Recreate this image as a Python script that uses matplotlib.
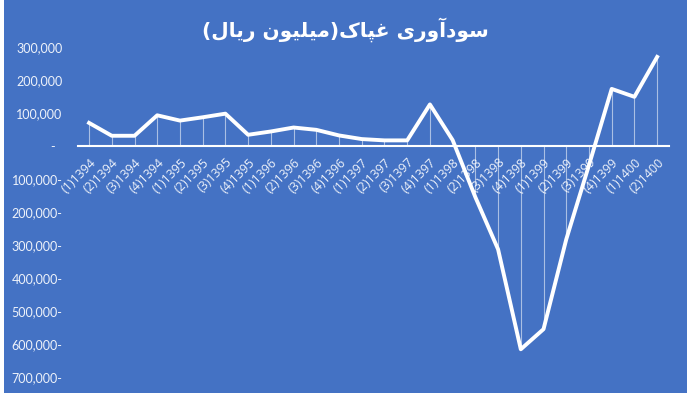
import matplotlib
matplotlib.use("Agg")
import matplotlib.pyplot as plt
from matplotlib.patches import Rectangle
from matplotlib.ticker import FuncFormatter

# quarterly profit of the company (million rial)
years = [1394] * 4 + [1395] * 4 + [1396] * 4 + [1397] * 4 + [1398] * 4 + [1399] * 4 + [1400] * 2
quarters = [1, 2, 3, 4] * 6 + [1, 2]
profit = [70000, 31000, 31000, 93000, 77000, 87000, 98000, 34000,
          44000, 56000, 49000, 32000, 21000, 17000, 17000, 126000,
          18000, -155000, -313000, -616000, -555000, -283000, -58000, 173000,
          149000, 270000]
labels = ["(%d)%d" % (q, y) for q, y in zip(quarters, years)]

# title written with Arabic presentation forms, in logical order
title_logical = ["\uFEB3", "\uFEEE", "\uFEA9", "\uFE81", "\uFEED", "\uFEAD", "\uFEEF", " ",
                 "\uFECF", "\uFB59", "\uFE8E", "\uFB8E", "(",
                 "\uFEE3", "\uFEF4", "\uFEE0", "\uFEF4", "\uFEEE", "\uFEE5", " ",
                 "\uFEAD", "\uFEF3", "\uFE8E", "\uFEDD", ")"]
swap = {"(": ")", ")": "("}
title_visual = "".join(swap.get(c, c) for c in reversed(title_logical))

blue = "#4472C4"
txt = "#EEF2FA"

fig = plt.figure(figsize=(7, 4), dpi=100, facecolor="white")
fig.patches.append(Rectangle((4 / 700, 7 / 400), 683 / 700, 393 / 400,
                             transform=fig.transFigure, facecolor=blue,
                             edgecolor="none", zorder=-1))

ax = fig.add_axes([0.111, 0.0575, 0.844, 0.825])
ax.set_facecolor("none")

x = list(range(len(profit)))
ax.vlines(x, 0, profit, color="white", lw=0.8, alpha=0.55)
ax.plot(x, profit, color="white", lw=2.8, solid_joinstyle="round", zorder=3)

ax.set_xlim(-0.5, len(profit) - 0.5)
ax.set_ylim(-700000, 300000)
ax.set_yticks(range(-700000, 300001, 100000))


def rtl_fmt(v, pos):
    v = int(round(v))
    if v == 0:
        return "-  "
    if v < 0:
        return "{:,}-".format(-v)
    return "{:,}".format(v)


ax.yaxis.set_major_formatter(FuncFormatter(rtl_fmt))
ax.tick_params(axis="y", length=0, pad=11, labelsize=9, labelcolor=txt)

for s in ["left", "right", "top"]:
    ax.spines[s].set_visible(False)
ax.spines["bottom"].set_position(("data", 0))
ax.spines["bottom"].set_color("white")
ax.spines["bottom"].set_linewidth(1.5)

ax.set_xticks(x)
ax.set_xticklabels(labels, rotation=45, ha="right", rotation_mode="anchor",
                   fontsize=9, color=txt)
ax.tick_params(axis="x", length=0, pad=7)

for lab in ax.get_xticklabels():
    lab.set_family(["Open Sans", "DejaVu Sans"])
for lab in ax.get_yticklabels():
    lab.set_family(["Lato", "DejaVu Sans"])

fig.text(0.493, 0.925, title_visual, ha="center", va="center", color="white",
         fontsize=14.5, fontweight="bold", family=["DejaVu Sans"])

fig.savefig("out.png", dpi=100, facecolor="white")
